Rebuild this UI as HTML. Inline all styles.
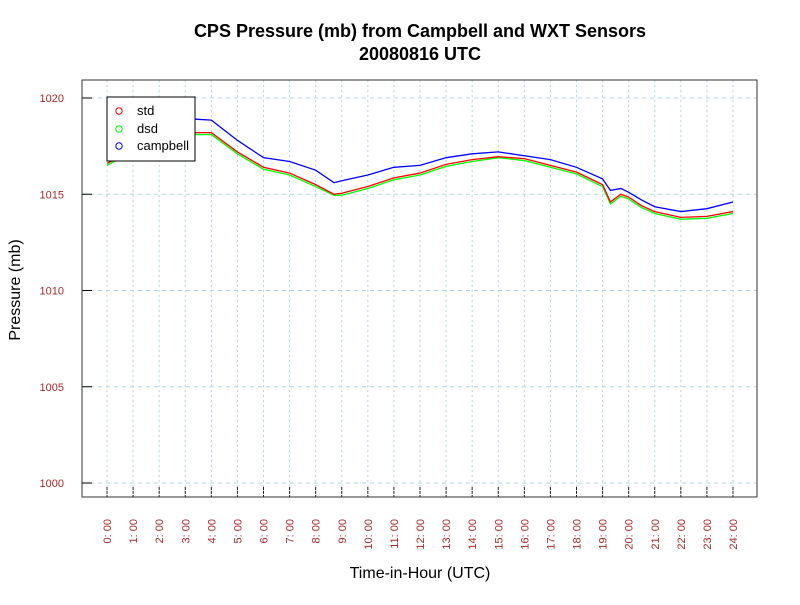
<!DOCTYPE html>
<html><head><meta charset="utf-8"><style>
body{margin:0;background:#fff}
svg{font-family:"Liberation Sans",sans-serif}
</style></head><body>
<svg id="c" width="800" height="600">
<text x="420" y="37" text-anchor="middle" font-size="18" font-weight="bold">CPS Pressure (mb) from Campbell and WXT Sensors</text>
<text x="420" y="60" text-anchor="middle" font-size="18" font-weight="bold">20080816  UTC</text>
<text x="420" y="578" text-anchor="middle" font-size="16">Time-in-Hour (UTC)</text>
<text transform="translate(20,290) rotate(-90)" text-anchor="middle" font-size="16">Pressure (mb)</text>
<g id="grid"></g><g id="axes"></g><g id="series"></g>
<rect x="82" y="80" width="675" height="417" fill="none" stroke="#333"/>
<g>
<rect x="107" y="97" width="88" height="64" fill="#fff" stroke="#000"/>
<circle cx="119" cy="111" r="3.2" fill="none" stroke="#f00"/>
<text x="137" y="115" font-size="13">std</text>
<circle cx="119" cy="129" r="3.2" fill="none" stroke="#0f0"/>
<text x="137" y="133" font-size="13">dsd</text>
<circle cx="119" cy="146" r="3.2" fill="none" stroke="#00f"/>
<text x="137" y="150" font-size="13">campbell</text>
</g>
</svg>
<script>
const hours=[0,1,2,3,3.4,4,5,6,7,8,8.7,9,10,11,12,13,14,15,16,17,18,19,19.3,19.7,20,20.5,21,22,23,24];
const stdVals=[1016.6,1017.3,1017.9,1018.2,1018.2,1018.2,1017.2,1016.4,1016.1,1015.5,1015.0,1015.05,1015.4,1015.85,1016.1,1016.55,1016.8,1016.95,1016.85,1016.5,1016.15,1015.5,1014.6,1015.0,1014.85,1014.4,1014.1,1013.8,1013.85,1014.1];
const dsdVals=[1016.5,1017.25,1017.85,1018.1,1018.1,1018.1,1017.1,1016.3,1016.0,1015.4,1014.95,1014.95,1015.3,1015.75,1016.0,1016.45,1016.7,1016.9,1016.75,1016.4,1016.05,1015.4,1014.5,1014.9,1014.75,1014.3,1014.0,1013.7,1013.75,1014.0];
const campVals=[1017.2,1017.9,1018.5,1018.9,1018.9,1018.85,1017.8,1016.9,1016.7,1016.25,1015.6,1015.7,1016.0,1016.4,1016.5,1016.9,1017.1,1017.2,1017.0,1016.8,1016.4,1015.8,1015.2,1015.3,1015.1,1014.7,1014.35,1014.1,1014.25,1014.6];
const yTicks=[1000,1005,1010,1015,1020];
const xTickHours=[0,1,2,3,4,5,6,7,8,9,10,11,12,13,14,15,16,17,18,19,20,21,22,23,24];
const NS="http://www.w3.org/2000/svg";
const X=h=>107+h*(733-107)/24;
const Y=v=>483-(v-1000)*(483-98)/20;
const grid=document.getElementById('grid'),axes=document.getElementById('axes'),ser=document.getElementById('series');
function mk(tag,attrs,parent){const e=document.createElementNS(NS,tag);for(const k in attrs)e.setAttribute(k,attrs[k]);parent.appendChild(e);return e;}
xTickHours.forEach(h=>{
 const l=mk('line',{x1:X(h),x2:X(h),y1:80,y2:497,stroke:'#add8e6','stroke-dasharray':'2,3'},grid);
 
 
 const tk=mk('line',{x1:X(h),x2:X(h),y1:487,y2:497,stroke:'#222','stroke-dasharray':'3,1'},axes);
 
 
 const t=mk('text',{transform:`translate(${X(h)+4},519) rotate(-90)`,'text-anchor':'end','font-size':'11',fill:'#a52a2a'},axes);
 t.textContent=h+': 00';
 
 
});
yTicks.forEach(v=>{
 const l=mk('line',{x1:82,x2:757,y1:Y(v),y2:Y(v),stroke:'#add8e6','stroke-dasharray':'4,4'},grid);
 
 
 const tk=mk('line',{x1:82,x2:92,y1:Y(v),y2:Y(v),stroke:'#000'},axes);
 
 
 const t=mk('text',{x:64,y:Y(v)+4,'text-anchor':'end','font-size':'11',fill:'#a52a2a'},axes);
 t.textContent=v;
 
 
});
[[dsdVals,'#00ff00','series-dsd'],[stdVals,'#ff0000','series-std'],[campVals,'#0000ff','series-campbell']].forEach(([vals,c,n])=>{
 const p=mk('polyline',{points:hours.map((h,i)=>X(h)+','+Y(vals[i])).join(' '),fill:'none',stroke:c,'stroke-width':1.3},ser);
 
 
});
</script>
</body></html>
